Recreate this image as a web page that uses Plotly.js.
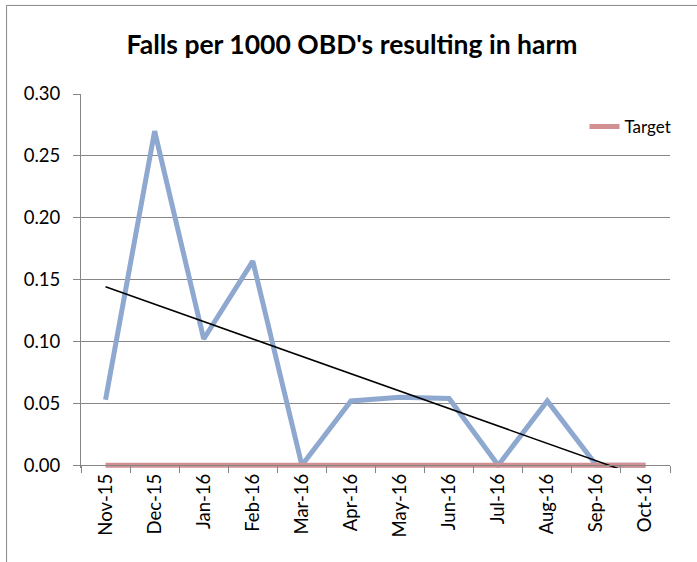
<!DOCTYPE html>
<html>
<head>
<meta charset="utf-8">
<script src="https://cdn.plot.ly/plotly-3.0.1.min.js"></script>
<style>
  html, body { margin: 0; padding: 0; background: #ffffff; }
  #chart { width: 697px; height: 562px; }
</style>
</head>
<body>
<div id="chart"></div>
<script>
// ---- data ----
const months = ["Nov-15","Dec-15","Jan-16","Feb-16","Mar-16","Apr-16","May-16","Jun-16","Jul-16","Aug-16","Sep-16","Oct-16"];
const fallsWithHarm = [0.053, 0.270, 0.102, 0.165, 0.000, 0.052, 0.055, 0.054, 0.000, 0.052, 0.000, 0.000];
const target = [0, 0, 0, 0, 0, 0, 0, 0, 0, 0, 0, 0];
const yTickVals = [0, 0.05, 0.10, 0.15, 0.20, 0.25, 0.30];

// linear trendline (least squares) over the series
const n = fallsWithHarm.length;
const idx = fallsWithHarm.map((_, i) => i + 1);
const mx = idx.reduce((a, b) => a + b, 0) / n;
const my = fallsWithHarm.reduce((a, b) => a + b, 0) / n;
let sxy = 0, sxx = 0;
for (let i = 0; i < n; i++) { sxy += (idx[i] - mx) * (fallsWithHarm[i] - my); sxx += (idx[i] - mx) ** 2; }
const slope = sxy / sxx;
const trend = idx.map(x => my + slope * (x - mx));

// ---- geometry ----
const L = 81, R = 670.5, T = 94, Y0 = 465, Y30 = 94;
const pxPerUnit = (Y0 - Y30) / 0.3;
const yMin = -0.0022;
const B = Y0 + (-yMin) * pxPerUnit;
const W = 697, H = 562;
const pw = R - L, ph = B - T;
const px2x = p => (p - L) / pw;
const py2y = p => (B - p) / ph;

const grey = "#868686";
const tickFont = { family: "Lato, 'Liberation Sans', sans-serif", size: 18.5, color: "#000000" };

const traces = [
  {
    x: months, y: fallsWithHarm, type: "scatter", mode: "lines",
    name: "Falls per 1000 OBD's resulting in harm",
    line: { color: "#8EA8D0", width: 5 },
    showlegend: false, hoverinfo: "skip"
  },
  {
    x: months, y: target, type: "scatter", mode: "lines",
    name: "Target",
    line: { color: "#D39092", width: 5 },
    showlegend: true, hoverinfo: "skip"
  },
  {
    x: months, y: trend, type: "scatter", mode: "lines",
    name: "Linear trend",
    line: { color: "#000000", width: 1.5 },
    showlegend: false, hoverinfo: "skip"
  }
];

const layout = {
  width: W, height: H,
  margin: { l: L, r: W - R, t: T, b: H - B, pad: 0 },
  paper_bgcolor: "#ffffff",
  plot_bgcolor: "#ffffff",
  title: {
    text: "<b>Falls per 1000 OBD's resulting in harm</b>",
    font: { family: "Lato, 'Liberation Sans', sans-serif", size: 26.5, color: "#000000" },
    x: 352 / W, xanchor: "center", xref: "container",
    y: 1 - 45 / H, yanchor: "middle", yref: "container"
  },
  xaxis: {
    type: "category",
    categoryorder: "array", categoryarray: months,
    range: [-0.5, 11.5],
    anchor: "free", position: py2y(Y0),
    showline: true, linecolor: grey, linewidth: 1,
    showgrid: false, zeroline: false,
    ticks: "outside", ticklen: 7, tickcolor: grey, tickwidth: 1,
    tickson: "boundaries",
    tickangle: -90,
    tickfont: tickFont,
    fixedrange: true
  },
  yaxis: {
    range: [yMin, 0.3],
    tickvals: yTickVals,
    tickformat: ".2f",
    showline: true, linecolor: grey, linewidth: 1,
    showgrid: true, gridcolor: grey, gridwidth: 1,
    zeroline: false,
    ticks: "outside", ticklen: 7, tickcolor: grey, tickwidth: 1,
    ticklabelstandoff: 9,
    tickfont: tickFont,
    fixedrange: true
  },
  showlegend: true,
  legend: {
    x: px2x(677), xanchor: "right",
    y: py2y(127), yanchor: "middle",
    bgcolor: "rgba(0,0,0,0)",
    font: { family: "Lato, 'Liberation Sans', sans-serif", size: 17, color: "#000000" },
    itemwidth: 30
  },
  shapes: [
    {
      type: "rect", xref: "paper", yref: "paper", layer: "below",
      x0: px2x(6.5), x1: px2x(740), y0: py2y(620), y1: py2y(5.5),
      line: { color: grey, width: 1 }, fillcolor: "rgba(0,0,0,0)"
    }
  ]
};

Plotly.newPlot("chart", traces, layout, { displayModeBar: false, staticPlot: true });
</script>
</body>
</html>
